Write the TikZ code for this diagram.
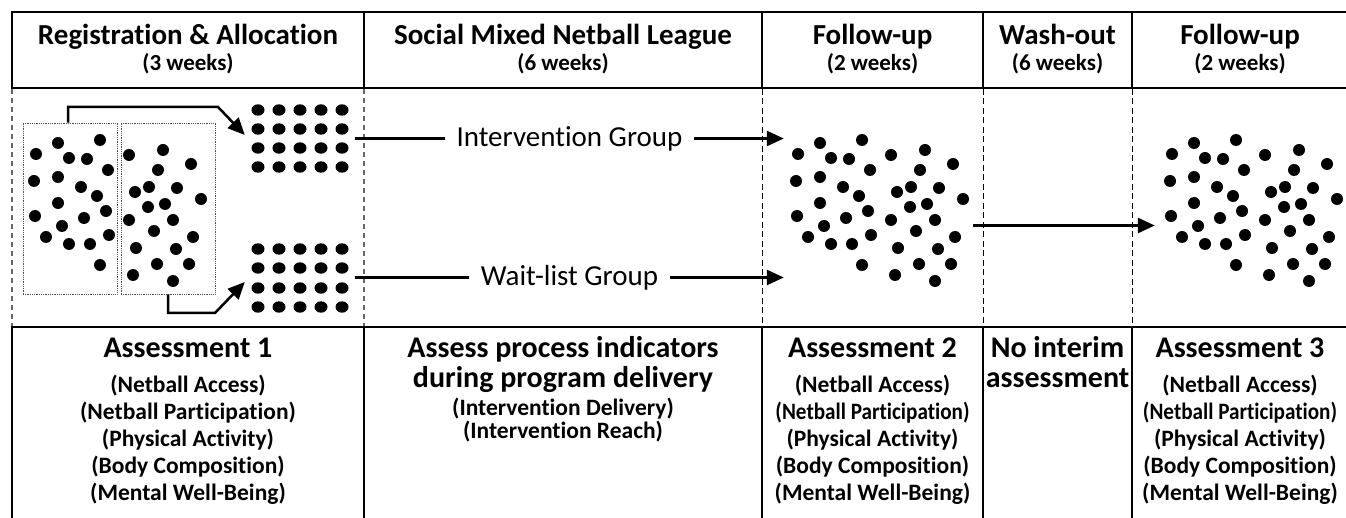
\documentclass[tikz,border=0pt]{standalone}
\usepackage{fontspec}
\setmainfont{Carlito}[Ligatures=NoCommon]
\usepackage{graphicx}
\usetikzlibrary{arrows.meta}
\tikzset{
  frameline/.style={line width=2pt, black},
  colline/.style={line width=1.6pt, black},
  dashgray/.style={line width=1.2pt, black!60, dash pattern=on 5pt off 4pt},
  dashblack/.style={line width=0.9pt, black, dash pattern=on 6pt off 3.5pt},
  groupbox/.style={draw=black!70, densely dotted, line width=0.8pt, minimum width=94pt, minimum height=171pt, inner sep=0pt},
  holder/.style={draw=none, inner sep=0pt},
  arr/.style={line width=2.5pt, -{Triangle[length=17pt,width=15pt]}},
  hdtitle/.style={anchor=base, font=\fontsize{29}{34}\selectfont\bfseries, inner sep=0pt},
  hdsub/.style={anchor=base, font=\fontsize{23}{27}\selectfont\bfseries, inner sep=0pt},
  grouplab/.style={font=\fontsize{29}{34}\selectfont, fill=white, inner xsep=12pt, inner ysep=2pt},
  bttitle/.style={anchor=base, font=\fontsize{30}{31}\selectfont\bfseries, inner sep=0pt, align=center},
  btsub/.style={anchor=base, font=\fontsize{23.5}{28}\selectfont\bfseries, inner sep=0pt},
}
\newcommand\drawscatter{%
  \foreach \px/\py in {36/154,58/143,100/140,69/158,87/159,108/170,34/181,58/177,81/187,97/196,58/203,106/211,35/216,84/218,62/226,46/237,69/244,90/244,109/235,100/265,
    129/155,163/150,191/164,158/170,135/192,149/187,177/188,201/199,148/207,165/204,129/220,173/220,154/231,193/237,136/248,176/249,157/264,189/264,133/275,173/281}
    \fill (\px,\py) circle[radius=6];}
\begin{document}
\begin{tikzpicture}[x=1pt,y=-1pt]
\useasboundingbox (0,0) rectangle (1346,518);

% table frame
\draw[frameline] (11.2,12) -- (1346,12);
\draw[frameline] (11.2,88) -- (1346,88);
\draw[line width=2.5pt] (11.2,327) -- (1346,327);
\foreach \cx in {12,364,762,983,1132} \draw[colline] (\cx,12) -- (\cx,88);
\foreach \cx in {12,364,762,983,1132} \draw[colline] (\cx,327) -- (\cx,518);
\foreach \cx in {12,364} \draw[dashgray] (\cx,89) -- (\cx,326);
\foreach \cx in {762,983,1132} \draw[dashblack] (\cx,89) -- (\cx,326);

% header
\node[hdtitle] (h1) at (188,45) {Registration \& Allocation};
\node[hdsub] (h1s) at (188,71) {(3 weeks)};
\node[hdtitle] (h2) at (563,45) {Social Mixed Netball League};
\node[hdsub] (h2s) at (563,71) {(6 weeks)};
\node[hdtitle] (h3) at (872.5,45) {Follow-up};
\node[hdsub] (h3s) at (872.5,71) {(2 weeks)};
\node[hdtitle] (h4) at (1057.5,45) {Wash-out};
\node[hdsub] (h4s) at (1057.5,71) {(6 weeks)};
\node[hdtitle] (h5) at (1240,45) {Follow-up};
\node[hdsub] (h5s) at (1240,71) {(2 weeks)};

% registration boxes with participants
\node[groupbox] (box1) at (70,208.5) {};
\node[groupbox] (box2) at (168,208.5) {};
\drawscatter

% allocated groups
\node[holder, minimum width=110pt, minimum height=76pt] (gridI) at (300,138.5) {};
\node[holder, minimum width=110pt, minimum height=76pt] (gridW) at (300,277.5) {};
\foreach \gx in {258,279,300,321,342} {
  \foreach \gy in {110,129,148,167} \fill (\gx,\gy) ellipse[x radius=6.5, y radius=5.7];
  \foreach \gy in {249,268,288,307} \fill (\gx,\gy) ellipse[x radius=6.5, y radius=5.7];
}

% follow-up clouds
\node[holder, minimum width=189pt, minimum height=200pt] (cloud1) at (878.5,225.5) {};
\node[holder, minimum width=191pt, minimum height=200pt] (cloud2) at (1250.5,225.5) {};
\begin{scope}[shift={(762,0)}]\drawscatter\end{scope}
\begin{scope}[shift={(1136,0)}]\drawscatter\end{scope}

% connectors
\draw[arr] ([xshift=-2pt]box1.north) |- (218,107) -- ([yshift=3.5pt]gridI.west);
\draw[arr] (box2.south) |- (215,313) -- ([yshift=-4.5pt]gridW.west);
\draw[arr] (gridI.east) -- node[grouplab] (labI) {Intervention Group} (gridI.east -| cloud1.west);
\draw[arr] (gridW.east) -- node[grouplab] (labW) {Wait-list Group} (gridW.east -| cloud1.west);
\draw[arr, line width=2.8pt] (cloud1.east) -- (cloud2.west);

% bottom row
\node[bttitle] (a1) at (188,358) {Assessment 1};
\foreach \t [count=\i] in {{(Netball Access)},{(Netball Participation)},{(Physical Activity)},{(Body Composition)},{(Mental Well-Being)}}
  \node[btsub] (a1-\i) at (188,365+27*\i) {\t};

\node[bttitle] (p1) at (563,388) {Assess process indicators\\during program delivery};
\node[btsub] (p3) at (563,415) {(Intervention Delivery)};
\node[btsub] (p4) at (563,438) {(Intervention Reach)};

\node[bttitle] (a2) at (872.5,358) {Assessment 2};
\foreach \t [count=\i] in {{(Netball Access)},{\scalebox{0.9}[1]{(Netball Participation)}},{(Physical Activity)},{(Body Composition)},{(Mental Well-Being)}}
  \node[btsub] (a2-\i) at (872.5,365+27*\i) {\t};

\node[bttitle] (n1) at (1057.5,388) {No interim\\assessment};

\node[bttitle] (a3) at (1240,358) {Assessment 3};
\foreach \t [count=\i] in {{(Netball Access)},{\scalebox{0.9}[1]{(Netball Participation)}},{(Physical Activity)},{(Body Composition)},{(Mental Well-Being)}}
  \node[btsub] (a3-\i) at (1240,365+27*\i) {\t};
\end{tikzpicture}
\end{document}
